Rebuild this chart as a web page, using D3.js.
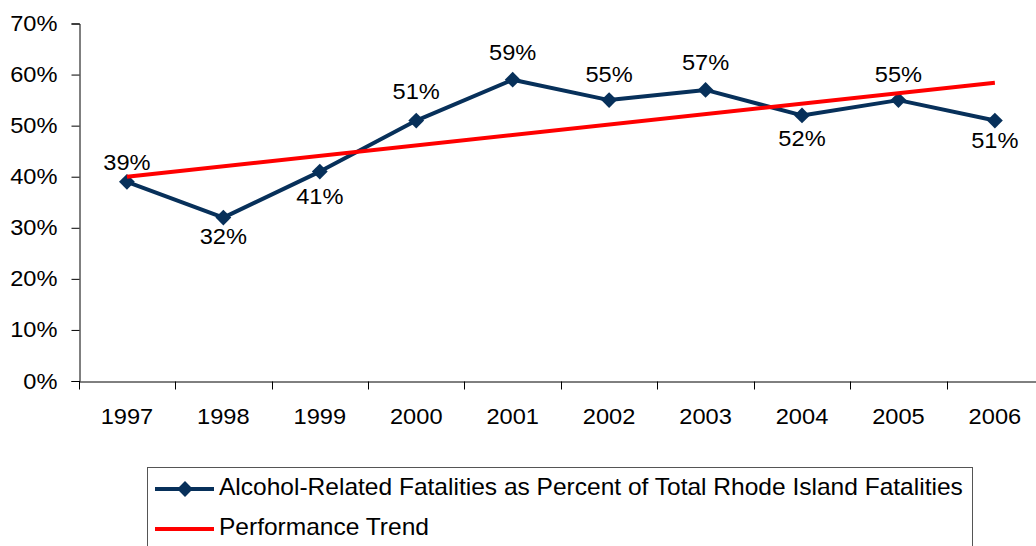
<!DOCTYPE html>
<html>
<head>
<meta charset="utf-8">
<script src="https://cdn.jsdelivr.net/npm/d3@7"></script>
<style>
  html, body { margin: 0; padding: 0; background: #fff; }
  svg { display: block; font-family: Arial, "Liberation Sans", sans-serif; }
</style>
</head>
<body>
<svg id="chart" width="1036" height="546"></svg>
<script>
// Alcohol-related fatalities as a share of all Rhode Island fatalities
const years = ["1997", "1998", "1999", "2000", "2001", "2002", "2003", "2004", "2005", "2006"];
const percentValues = [39, 32, 41, 51, 59, 55, 57, 52, 55, 51];
// performance trend line endpoints (first and last year)
const trendYears = ["1997", "2006"];
const trendValues = [40.0, 58.4];
const yTicks = [0, 10, 20, 30, 40, 50, 60, 70];
const seriesNames = ["Alcohol-Related Fatalities as Percent of Total Rhode Island Fatalities", "Performance Trend"];

// layout: vertical offset of each data label from its marker (negative = above)
const labelOffset = [-20, 19, 25, -29, -27, -26, -28, 23, -26, 20];

const navy = "#07305a";
const red = "#ff0000";
const fontSize = 22;
const stretchX = 1.075;   // text is set slightly wide
const fontFamily = "Arial, 'Liberation Sans', sans-serif";

const svg = d3.select("#chart");
const plot = { left: 78.7, top: 23.5, bottom: 381, right: 1043.1 };

const x = d3.scaleBand().domain(years).range([plot.left, plot.right]).paddingInner(0).paddingOuter(0);
const y = d3.scaleLinear().domain([0, 70]).range([plot.bottom, plot.top]);
const cx = d => x(d) + x.bandwidth() / 2;

// widen text horizontally around its anchor point
function widen(sel, sx) {
  sel.each(function () {
    const t = d3.select(this);
    const ax = +(t.attr("x") || 0);
    t.attr("transform", `translate(${ax},0) scale(${sx},1) translate(${-ax},0)`);
  });
}

// y axis
const yAxis = svg.append("g")
  .attr("transform", `translate(${Math.round(plot.left) + 0.5},0)`)
  .call(d3.axisLeft(y).tickValues(yTicks).tickFormat(d => d + "%").tickSize(8).tickPadding(14));
yAxis.select(".domain").attr("stroke", "#000");
yAxis.selectAll(".tick line").attr("stroke", "#000");
yAxis.selectAll(".tick text").attr("font-size", fontSize).attr("font-family", fontFamily).attr("fill", "#000")
  .call(widen, stretchX);

// x axis with ticks at category boundaries
const xAxis = svg.append("g")
  .attr("transform", `translate(0,${Math.round(plot.bottom) + 0.5})`)
  .call(d3.axisBottom(x).tickSize(0).tickPadding(27));
xAxis.select(".domain").attr("stroke", "#000");
xAxis.selectAll(".tick text").attr("font-size", fontSize).attr("font-family", fontFamily).attr("fill", "#000")
  .call(widen, stretchX);
xAxis.selectAll(".boundary")
  .data(years)
  .enter().append("line")
  .attr("class", "boundary")
  .attr("x1", d => Math.round(x(d)) + 0.5)
  .attr("x2", d => Math.round(x(d)) + 0.5)
  .attr("y1", 0).attr("y2", 8)
  .attr("stroke", "#000");

// main series line
const line = d3.line().x((d, i) => cx(years[i])).y(d => y(d));
svg.append("path")
  .datum(percentValues)
  .attr("d", line)
  .attr("fill", "none")
  .attr("stroke", navy)
  .attr("stroke-width", 4)
  .attr("stroke-linejoin", "round");

// diamond markers
const diamond = d3.symbol().type(d3.symbolSquare).size(125);
svg.selectAll(".marker")
  .data(percentValues)
  .enter().append("path")
  .attr("class", "marker")
  .attr("d", diamond)
  .attr("transform", (d, i) => `translate(${cx(years[i])},${y(d)}) rotate(45)`)
  .attr("fill", navy);

// trend line
svg.append("line")
  .attr("x1", cx(trendYears[0])).attr("y1", y(trendValues[0]))
  .attr("x2", cx(trendYears[1])).attr("y2", y(trendValues[1]))
  .attr("stroke", red)
  .attr("stroke-width", 4);

// data labels
svg.selectAll(".dlabel")
  .data(percentValues)
  .enter().append("text")
  .attr("class", "dlabel")
  .attr("x", (d, i) => cx(years[i]))
  .attr("y", (d, i) => y(d) + labelOffset[i])
  .attr("dy", "0.35em")
  .attr("text-anchor", "middle")
  .attr("font-size", fontSize)
  .attr("font-family", fontFamily)
  .attr("fill", "#000")
  .text(d => d + "%")
  .call(widen, stretchX);

// legend
const legend = svg.append("g");
legend.append("rect")
  .attr("x", 147.5).attr("y", 467.5)
  .attr("width", 825).attr("height", 110)
  .attr("fill", "#fff")
  .attr("stroke", "#555")
  .attr("stroke-width", 1);

const legendRows = [
  { name: seriesNames[0], color: navy, marker: true, cy: 489 },
  { name: seriesNames[1], color: red, marker: false, cy: 529 }
];
legendRows.forEach(r => {
  legend.append("line")
    .attr("x1", 155).attr("x2", 214)
    .attr("y1", r.cy).attr("y2", r.cy)
    .attr("stroke", r.color).attr("stroke-width", 4);
  if (r.marker) {
    legend.append("path")
      .attr("d", diamond)
      .attr("transform", `translate(185,${r.cy}) rotate(45)`)
      .attr("fill", r.color);
  }
  legend.append("text")
    .attr("x", 219).attr("y", r.cy + 6)
    .attr("font-size", 23)
    .attr("font-family", fontFamily)
    .attr("fill", "#000")
    .text(r.name)
    .call(widen, 1.067);
});
</script>
</body>
</html>
